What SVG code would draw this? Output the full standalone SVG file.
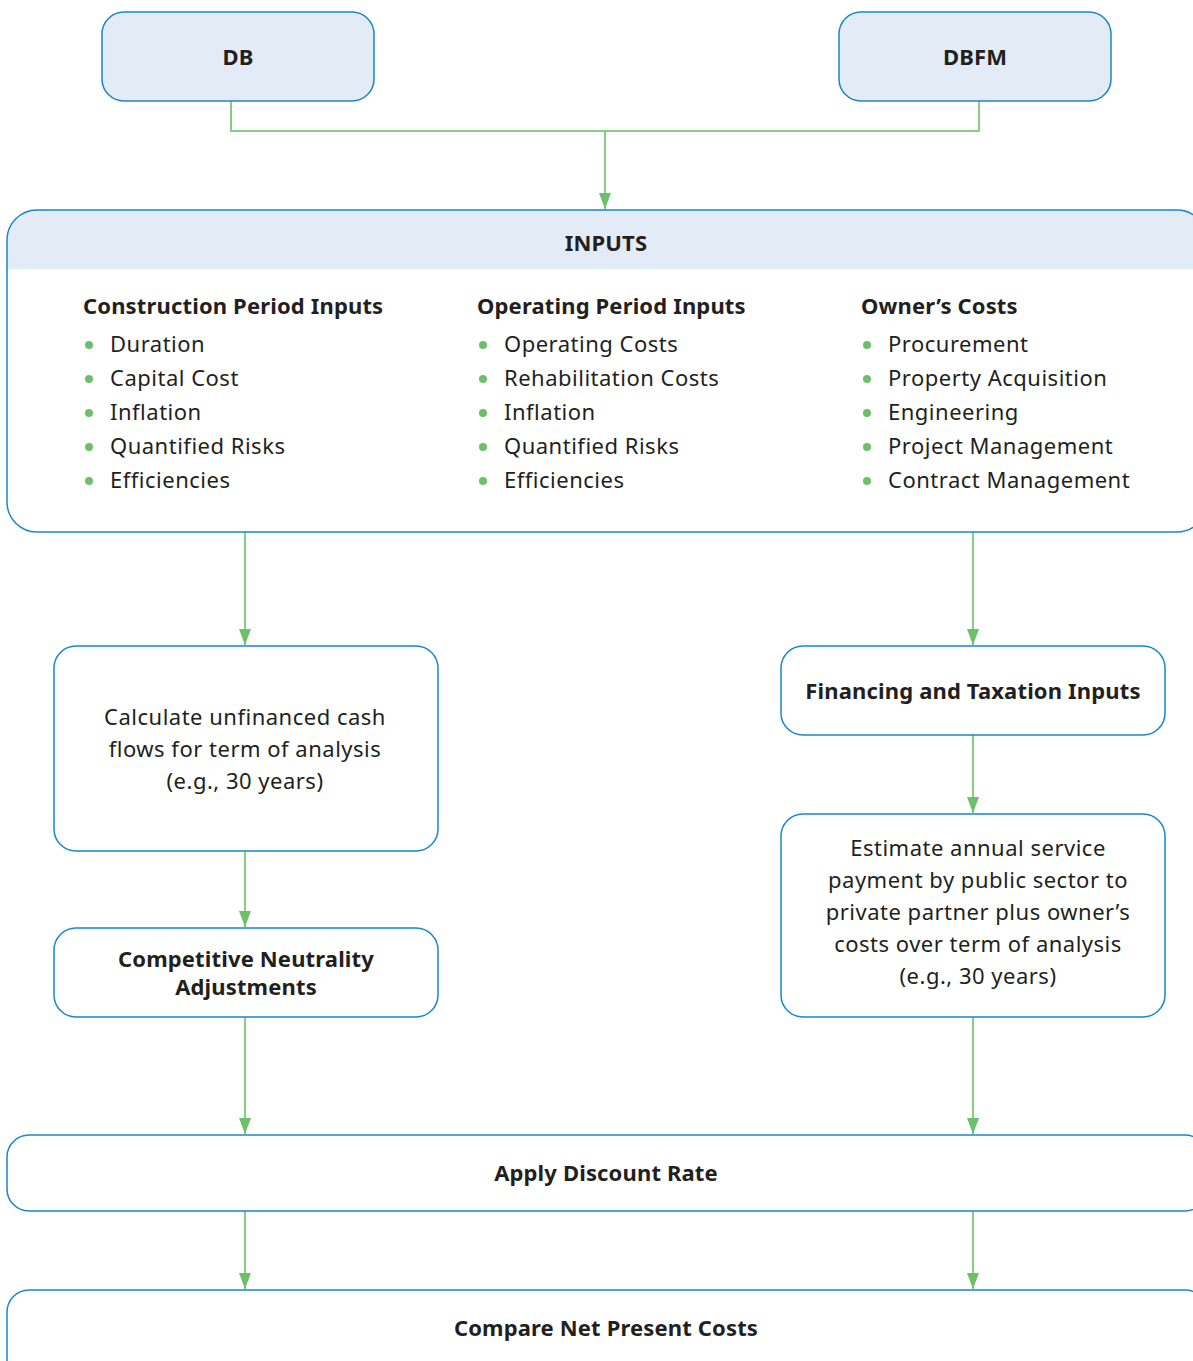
<svg xmlns="http://www.w3.org/2000/svg" width="1193" height="1361" viewBox="0 0 1193 1361">
<defs>
<style>
.box{fill:#fff;stroke:#1b87c9;stroke-width:1.5}
.hbox{fill:#e3ebf6;stroke:#1b87c9;stroke-width:1.5}
.ln{fill:none;stroke:#86cf82;stroke-width:2}
.t{font-family:"Noto Sans",Lato,sans-serif;fill:#231f20}
.b{font-weight:bold;font-size:22px;letter-spacing:0.15px}
.r{font-size:22px;letter-spacing:0.5px}
.c{text-anchor:middle}
.dot{fill:#6cc06a}
</style>
<marker id="ah" viewBox="0 0 16 12" refX="16" refY="6" markerWidth="16" markerHeight="12" markerUnits="userSpaceOnUse" orient="auto">
<path d="M0,0 L16,6 L0,12 Z" fill="#6cc06a"/>
</marker>
</defs>
<g id="connectors">
<path class="ln" d="M231,101 V131 H979 V101"/>
<path class="ln" d="M605,131 V209" marker-end="url(#ah)"/>
<path class="ln" d="M245,532 V645" marker-end="url(#ah)"/>
<path class="ln" d="M973,532 V645" marker-end="url(#ah)"/>
<path class="ln" d="M245,851 V927" marker-end="url(#ah)"/>
<path class="ln" d="M973,735 V813" marker-end="url(#ah)"/>
<path class="ln" d="M245,1017 V1134" marker-end="url(#ah)"/>
<path class="ln" d="M973,1017 V1134" marker-end="url(#ah)"/>
<path class="ln" d="M245,1211 V1289" marker-end="url(#ah)"/>
<path class="ln" d="M973,1211 V1289" marker-end="url(#ah)"/>
</g>
<g id="db">
<rect class="hbox" x="102" y="12" width="272" height="89" rx="22"/>
<text class="t b c" x="238" y="65">DB</text>
</g>
<g id="dbfm">
<rect class="hbox" x="839" y="12" width="272" height="89" rx="22"/>
<text class="t b c" x="975" y="65">DBFM</text>
</g>
<g id="inputs">
<path d="M7,269 V240 A30,30 0 0 1 37,210 H1177 A30,30 0 0 1 1207,240 V269 Z" fill="#e3ebf6"/>
<rect x="7" y="210" width="1200" height="322" rx="30" fill="none" stroke="#1b87c9" stroke-width="1.5"/>
<text class="t b c" x="606" y="251">INPUTS</text>
<text class="t b" x="83" y="314">Construction Period Inputs</text>
<text class="t b" x="477" y="314">Operating Period Inputs</text>
<text class="t b" x="861" y="314">Owner’s Costs</text>
<g>
<circle class="dot" cx="89" cy="345" r="4"/><circle class="dot" cx="89" cy="379" r="4"/><circle class="dot" cx="89" cy="413" r="4"/><circle class="dot" cx="89" cy="447" r="4"/><circle class="dot" cx="89" cy="481" r="4"/>
<circle class="dot" cx="483" cy="345" r="4"/><circle class="dot" cx="483" cy="379" r="4"/><circle class="dot" cx="483" cy="413" r="4"/><circle class="dot" cx="483" cy="447" r="4"/><circle class="dot" cx="483" cy="481" r="4"/>
<circle class="dot" cx="867" cy="345" r="4"/><circle class="dot" cx="867" cy="379" r="4"/><circle class="dot" cx="867" cy="413" r="4"/><circle class="dot" cx="867" cy="447" r="4"/><circle class="dot" cx="867" cy="481" r="4"/>
</g>
<text class="t r" x="110" y="352">Duration</text>
<text class="t r" x="110" y="386">Capital Cost</text>
<text class="t r" x="110" y="420">Inflation</text>
<text class="t r" x="110" y="454">Quantified Risks</text>
<text class="t r" x="110" y="488">Efficiencies</text>
<text class="t r" x="504" y="352">Operating Costs</text>
<text class="t r" x="504" y="386">Rehabilitation Costs</text>
<text class="t r" x="504" y="420">Inflation</text>
<text class="t r" x="504" y="454">Quantified Risks</text>
<text class="t r" x="504" y="488">Efficiencies</text>
<text class="t r" x="888" y="352">Procurement</text>
<text class="t r" x="888" y="386">Property Acquisition</text>
<text class="t r" x="888" y="420">Engineering</text>
<text class="t r" x="888" y="454">Project Management</text>
<text class="t r" x="888" y="488">Contract Management</text>
</g>
<g id="calc">
<rect class="box" x="54" y="646" width="384" height="205" rx="22"/>
<text class="t r c" x="245" y="725">Calculate unfinanced cash</text>
<text class="t r c" x="245" y="757">flows for term of analysis</text>
<text class="t r c" x="245" y="789">(e.g., 30 years)</text>
</g>
<g id="cna">
<rect class="box" x="54" y="928" width="384" height="89" rx="22"/>
<text class="t b c" x="246" y="967">Competitive Neutrality</text>
<text class="t b c" x="246" y="995">Adjustments</text>
</g>
<g id="fin">
<rect class="box" x="781" y="646" width="384" height="89" rx="22"/>
<text class="t b c" x="973" y="699">Financing and Taxation Inputs</text>
</g>
<g id="est">
<rect class="box" x="781" y="814" width="384" height="203" rx="22"/>
<text class="t r c" x="978" y="856">Estimate annual service</text>
<text class="t r c" x="978" y="888">payment by public sector to</text>
<text class="t r c" x="978" y="920">private partner plus owner’s</text>
<text class="t r c" x="978" y="952">costs over term of analysis</text>
<text class="t r c" x="978" y="984">(e.g., 30 years)</text>
</g>
<g id="discount">
<rect class="box" x="7" y="1135" width="1200" height="76" rx="22"/>
<text class="t b c" x="606" y="1181">Apply Discount Rate</text>
</g>
<g id="compare">
<rect class="box" x="7" y="1290" width="1200" height="100" rx="22"/>
<text class="t b c" x="606" y="1336">Compare Net Present Costs</text>
</g>
</svg>
